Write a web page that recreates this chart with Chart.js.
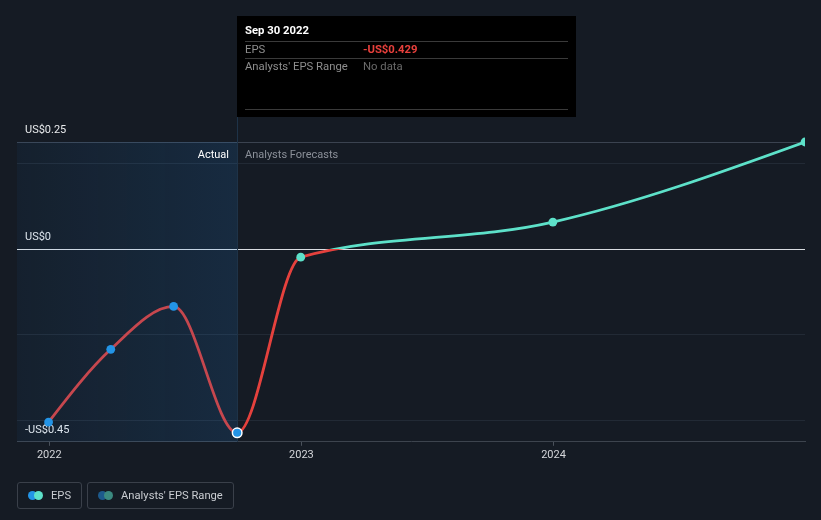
<!DOCTYPE html>
<html>
<head>
<meta charset="utf-8">
<script src="https://cdn.jsdelivr.net/npm/chart.js@4.4.1/dist/chart.umd.min.js"></script>
<style>
  html, body { margin: 0; padding: 0; background: #151b24; }
  #wrap { position: relative; width: 821px; height: 520px; background: #151b24; overflow: hidden; }
  #cv { position: absolute; left: 0; top: 0; }
  #legend { position: absolute; left: 17px; top: 482px; display: flex; gap: 5px; font-family: Roboto, "Noto Sans", sans-serif; font-size: 11.2px; color: #c9ccd1; }
  .item { box-sizing: border-box; height: 27px; border: 1px solid #3a404a; border-radius: 3px; display: flex; align-items: center; padding: 0 10px 0 10px; }
  .dots { position: relative; width: 15px; height: 9px; margin-right: 8px; }
  .dots span { position: absolute; top: 0; width: 9px; height: 9px; border-radius: 50%; }
  .dots span:first-child { left: 0; }
  .dots span:last-child { left: 6px; }
</style>
</head>
<body>
<div id="wrap">
  <canvas id="cv" width="821" height="520"></canvas>
  <div id="legend">
    <div class="item"><div class="dots"><span style="background:#2394e6"></span><span style="background:#5de1c9"></span></div>EPS</div>
    <div class="item"><div class="dots"><span style="background:#1d5a8c"></span><span style="background:#3b8a80"></span></div>Analysts' EPS Range</div>
  </div>
</div>
<script>
// ---- data ----
const dates = ['2021-12-31', '2022-03-31', '2022-06-30', '2022-09-30', '2022-12-31', '2023-12-31', '2024-12-31'];
const eps = [-0.404, -0.234, -0.134, -0.429, -0.019, 0.063, 0.25];
const lastActualIndex = 3;
const xTicks = [2022, 2023, 2024];
const yTicks = [-0.45, -0.4, -0.2, 0, 0.2, 0.25];
const yLabelled = [-0.45, 0, 0.25];
const tooltipTitle = 'Sep 30 2022';
const rangeText = 'No data';

// ---- helpers ----
function toYear(s) {
  const [Y, M, D] = s.split('-').map(Number);
  const a = Date.UTC(Y, 0, 1), b = Date.UTC(Y + 1, 0, 1);
  return Y + (Date.UTC(Y, M - 1, D) - a) / (b - a);
}
function fmt(v) {
  if (v === 0) return 'US$0';
  return (v < 0 ? '-' : '') + 'US$' + Math.abs(v);
}
const points = dates.map((d, i) => ({ x: toYear(d), y: eps[i] }));

const BLUE = '#2394e6', CYAN = '#5de1c9', RED = '#e5413d', ACT_RED = '#c6474e';
const FONT = 'Roboto, "Noto Sans", sans-serif';

let gradCache = null;
function forecastGradient(chart) {
  const a = chart.chartArea, y = chart.scales.y;
  const key = a.top + ',' + a.bottom;
  if (gradCache && gradCache.key === key) return gradCache.g;
  const g = chart.ctx.createLinearGradient(0, a.top, 0, a.bottom);
  const f = Math.min(1, Math.max(0, (y.getPixelForValue(0) - a.top) / (a.bottom - a.top)));
  g.addColorStop(0, CYAN); g.addColorStop(f, CYAN);
  g.addColorStop(f, RED); g.addColorStop(1, RED);
  gradCache = { key, g };
  return g;
}

// d3 monotoneX (Steffen) control points
const steffen = {
  id: 'steffen',
  beforeDatasetDraw(chart, args) {
    const meta = args.meta, line = meta.dataset;
    if (!line) return;
    line.updateControlPoints(chart.chartArea, 'x');
    const p = meta.data, n = p.length;
    if (n < 3) return;
    const h = [], s = [], t = new Array(n);
    const sg = v => (v < 0 ? -1 : 1);
    for (let i = 0; i < n - 1; i++) { h[i] = p[i + 1].x - p[i].x; s[i] = (p[i + 1].y - p[i].y) / h[i]; }
    for (let i = 1; i < n - 1; i++) {
      const q = (s[i - 1] * h[i] + s[i] * h[i - 1]) / (h[i - 1] + h[i]);
      t[i] = (sg(s[i - 1]) + sg(s[i])) * Math.min(Math.abs(s[i - 1]), Math.abs(s[i]), 0.5 * Math.abs(q)) || 0;
    }
    t[0] = (3 * s[0] - t[1]) / 2;
    t[n - 1] = (3 * s[n - 2] - t[n - 2]) / 2;
    for (let i = 0; i < n - 1; i++) {
      const dx = h[i] / 3;
      p[i].cp2x = p[i].x + dx; p[i].cp2y = p[i].y + dx * t[i];
      p[i + 1].cp1x = p[i + 1].x - dx; p[i + 1].cp1y = p[i + 1].y - dx * t[i + 1];
    }
    p[0].cp1x = p[0].x; p[0].cp1y = p[0].y;
    p[n - 1].cp2x = p[n - 1].x; p[n - 1].cp2y = p[n - 1].y;
  }
};

const overlay = {
  id: 'overlay',
  beforeDatasetsDraw(chart) {
    const { ctx, chartArea: a, scales: { x } } = chart;
    const xs = Math.round(x.getPixelForValue(points[lastActualIndex].x));
    ctx.save();
    const g = ctx.createLinearGradient(a.left, 0, xs, 0);
    g.addColorStop(0, 'rgba(35,140,235,0.05)');
    g.addColorStop(1, 'rgba(35,140,235,0.14)');
    ctx.fillStyle = g;
    ctx.fillRect(a.left, a.top, xs - a.left, a.bottom - a.top);
    ctx.strokeStyle = '#1e3348';
    ctx.lineWidth = 1;
    ctx.beginPath(); ctx.moveTo(xs + 0.5, 117); ctx.lineTo(xs + 0.5, a.bottom); ctx.stroke();
    ctx.font = '11px ' + FONT;
    ctx.textBaseline = 'middle';
    ctx.textAlign = 'right'; ctx.fillStyle = '#ffffff';
    ctx.fillText('Actual', xs - 8, a.top + 13);
    ctx.textAlign = 'left'; ctx.fillStyle = '#8b9099';
    ctx.fillText('Analysts Forecasts', xs + 8, a.top + 13);
    ctx.restore();
  },
  afterDraw(chart) {
    const { ctx, scales: { x } } = chart;
    const x0 = Math.round(x.getPixelForValue(points[lastActualIndex].x));
    const w = 339;
    ctx.save();
    ctx.fillStyle = '#000000';
    ctx.fillRect(x0, 16, w, 101);
    ctx.strokeStyle = '#3a3a3a'; ctx.lineWidth = 1;
    [41, 58, 109].forEach(yy => { ctx.beginPath(); ctx.moveTo(x0 + 8, yy + 0.5); ctx.lineTo(x0 + w - 8, yy + 0.5); ctx.stroke(); });
    ctx.textBaseline = 'middle'; ctx.textAlign = 'left';
    ctx.font = 'bold 11.3px ' + FONT; ctx.fillStyle = '#ffffff';
    ctx.fillText(tooltipTitle, x0 + 8, 31.5);
    ctx.font = '11.3px ' + FONT; ctx.fillStyle = '#8e8e8e';
    ctx.fillText('EPS', x0 + 8, 50);
    ctx.fillText("Analysts' EPS Range", x0 + 8, 67);
    ctx.font = 'bold 11.3px ' + FONT; ctx.fillStyle = '#e8403c';
    ctx.fillText(fmt(eps[lastActualIndex]), x0 + 126, 50);
    ctx.font = '11.3px ' + FONT; ctx.fillStyle = '#6a6a6a';
    ctx.fillText(rangeText, x0 + 126, 67);
    ctx.restore();
  }
};

const ptColors = points.map((p, i) => (i <= lastActualIndex ? BLUE : CYAN));
const ptBorder = points.map((p, i) => (i === lastActualIndex ? '#ffffff' : ptColors[i]));
const ptBorderW = points.map((p, i) => (i === lastActualIndex ? 1.5 : 0));
const ptRadius = points.map((p, i) => (i === lastActualIndex ? 4.8 : 4.4));

new Chart(document.getElementById('cv'), {
  type: 'line',
  data: {
    datasets: [{
      data: points,
      borderWidth: 2.8,
      borderColor: RED,
      cubicInterpolationMode: 'monotone',
      pointRadius: ptRadius,
      pointBackgroundColor: ptColors,
      pointBorderColor: ptBorder,
      pointBorderWidth: ptBorderW,
      clip: { left: 6, top: 6, right: 0, bottom: 6 },
      segment: {
        borderColor: c => (c.p1DataIndex <= lastActualIndex ? ACT_RED : forecastGradient(c.chart))
      }
    }]
  },
  options: {
    responsive: false,
    animation: false,
    events: [],
    layout: { padding: { top: 142, left: 17, right: 16, bottom: 55 } },
    plugins: { legend: { display: false }, tooltip: { enabled: false } },
    scales: {
      x: {
        type: 'linear',
        min: 2021.872,
        max: points[points.length - 1].x,
        afterBuildTicks: ax => { ax.ticks = xTicks.map(v => ({ value: v })); },
        ticks: { callback: v => String(v), color: '#d4d6da', font: { family: FONT, size: 11 }, padding: 3, maxRotation: 0, autoSkip: false },
        grid: { display: true, drawOnChartArea: false, drawTicks: true, tickLength: 4, color: '#4a515b' },
        border: { display: true, color: '#3d444e', width: 1 }
      },
      y: {
        min: -0.45,
        max: 0.25,
        afterBuildTicks: ax => { ax.ticks = yTicks.map(v => ({ value: v })); },
        afterFit: ax => { ax.width = 0; },
        ticks: {
          mirror: true, padding: 8, labelOffset: -12,
          color: '#e8eaec', font: { family: FONT, size: 11 },
          callback: v => (yLabelled.includes(v) ? fmt(v) : '')
        },
        grid: {
          drawTicks: false,
          color: c => {
            const v = c.tick && c.tick.value;
            if (v === 0) return '#d9dde2';
            if (v === 0.25) return '#3b4350';
            if (v === -0.45) return 'rgba(0,0,0,0)';
            return '#222a35';
          }
        },
        border: { display: false }
      }
    }
  },
  plugins: [steffen, overlay]
});
</script>
</body>
</html>
